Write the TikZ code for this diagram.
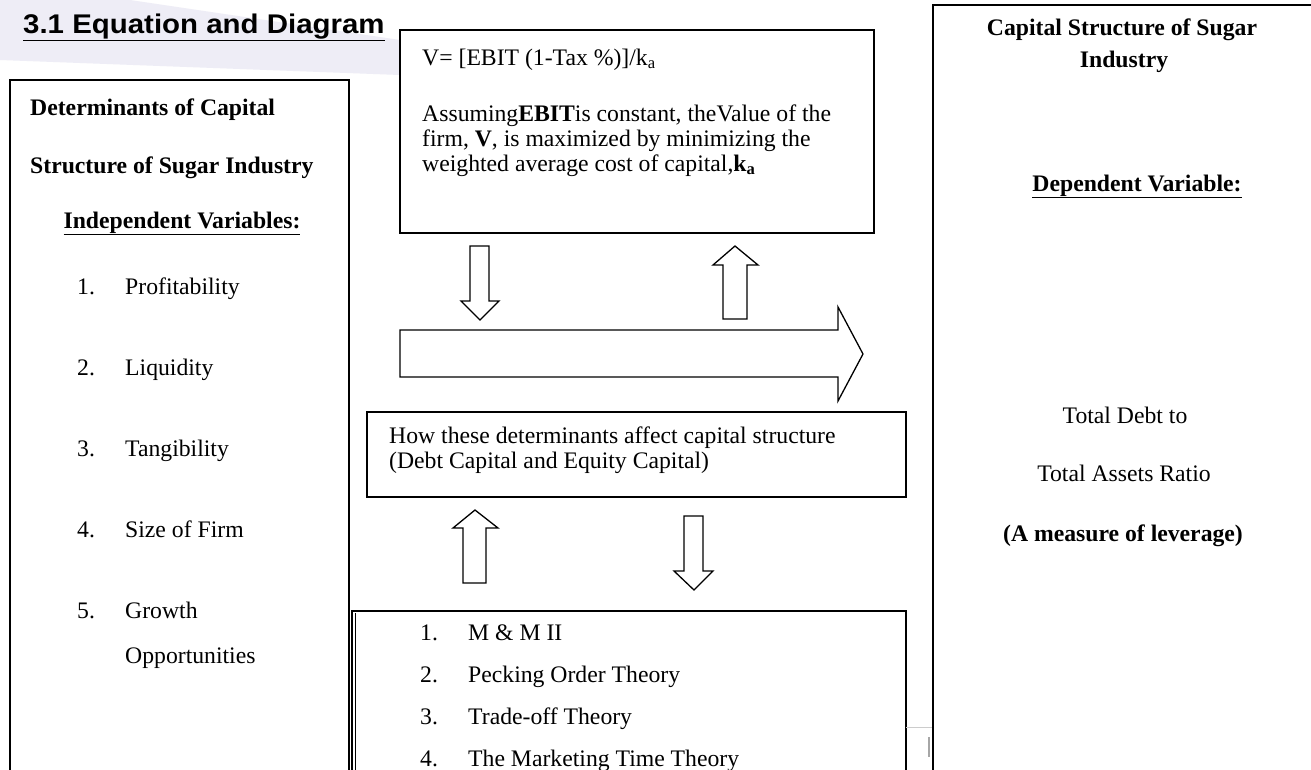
\documentclass[tikz,border=0pt]{standalone}
\usepackage{fontspec}
\setmainfont{Liberation Serif}
\newfontfamily\arialfont{Liberation Sans}
\definecolor{wmark}{RGB}{238,237,246}
\tikzset{
  boxline/.style={draw=black, line width=1.4pt},
  thickbox/.style={draw=black, line width=2pt},
  blockarrow/.style={draw=black, line width=1.3pt, fill=white, line join=miter},
  txt/.style={inner sep=0pt, anchor=base west, font=\fontsize{23.7}{28}\selectfont},
  btxt/.style={inner sep=0pt, anchor=base west, font=\fontsize{23.7}{28}\selectfont\bfseries},
  ctxt/.style={inner sep=0pt, anchor=base, font=\fontsize{23.7}{28}\selectfont},
  cbtxt/.style={inner sep=0pt, anchor=base, font=\fontsize{23.7}{28}\selectfont\bfseries},
}
\begin{document}
\begin{tikzpicture}[x=1pt, y=-1pt]
\useasboundingbox (0,0) rectangle (1311,769);
\fill[white] (0,0) rectangle (1311,769);
% faint watermark
\fill[wmark] (0,0) -- (130,0) -- (400,40) -- (400,75) -- (0,60) -- cycle;

% title
\node[inner sep=0pt, anchor=base west] (title) at (23,33)
  {\scalebox{1.09}[1]{\arialfont\bfseries\fontsize{27}{32}\selectfont\underline{3.1 Equation and Diagram}}};

% left box
\draw[thickbox] (10,780) -- (10,80) -- (349,80) -- (349,780);
\node[btxt] (l1) at (30,115) {Determinants of Capital};
\node[btxt] (l2) at (30,173) {Structure of Sugar Industry};
\node[cbtxt] (l3) at (182,228) {\underline{Independent Variables:}};
\node[txt] (n1) at (77,294) {1.};
\node[txt] (i1) at (125,294) {Profitability};
\node[txt] (n2) at (77,375) {2.};
\node[txt] (i2) at (125,375) {Liquidity};
\node[txt] (n3) at (77,456) {3.};
\node[txt] (i3) at (125,456) {Tangibility};
\node[txt] (n4) at (77,537) {4.};
\node[txt] (i4) at (125,537) {Size of Firm};
\node[txt] (n5) at (77,618) {5.};
\node[txt] (i5) at (125,618) {Growth};
\node[txt] (i6) at (125,663) {Opportunities};

% top middle box
\draw[boxline, fill=white] (400,30) rectangle (874,233);
\node[txt] (eq) at (422,65) {V= [EBIT (1-Tax \%)]/k\textsubscript{a}};
\node[txt] (t1) at (422,121) {Assuming\textbf{EBIT}is constant, theValue of the};
\node[txt] (t2) at (422,146) {firm, \textbf{V}, is maximized by minimizing the};
\node[txt] (t3) at (422,171) {weighted average cost of capital,\textbf{k\textsubscript{a}}};

% arrows between top box and big arrow
\draw[blockarrow] (470,246) -- (489,246) -- (489,301) -- (499,301) -- (480,320) -- (461,301) -- (470,301) -- cycle;
\draw[blockarrow] (735,246) -- (758,265) -- (747,265) -- (747,319) -- (723,319) -- (723,265) -- (713,265) -- cycle;

% big right arrow
\draw[blockarrow] (400,330) -- (838,330) -- (838,307) -- (863,354) -- (838,401) -- (838,377) -- (400,377) -- cycle;

% middle box
\draw[boxline] (367,412) rectangle (906,497);
\node[txt] (m1) at (389,443) {How these determinants affect capital structure};
\node[txt] (m2) at (389,468) {(Debt Capital and Equity Capital)};

% arrows between middle box and bottom box
\draw[blockarrow] (475,510) -- (498,528) -- (486,528) -- (486,583) -- (463,583) -- (463,528) -- (453,528) -- cycle;
\draw[blockarrow] (684,516) -- (703,516) -- (703,571) -- (713,571) -- (694,590) -- (674,571) -- (684,571) -- cycle;

% bottom box
\draw[boxline] (352,780) -- (352,611) -- (906,611) -- (906,780);
\draw[line width=0.8pt] (355.5,613) -- (355.5,780);
\node[txt] (b1n) at (420,640) {1.};
\node[txt] (b1) at (468,640) {M \& M II};
\node[txt] (b2n) at (420,682) {2.};
\node[txt] (b2) at (468,682) {Pecking Order Theory};
\node[txt] (b3n) at (420,724) {3.};
\node[txt] (b3) at (468,724) {Trade-off Theory};
\node[txt] (b4n) at (420,766) {4.};
\node[txt] (b4) at (468,766) {The Marketing Time Theory};

% small grey marks
\draw[gray!40, line width=0.8pt] (906,727) -- (933,727);
\draw[gray!70, line width=1.5pt] (929,737) -- (929,757);

% right box
\draw[thickbox] (933,780) -- (933,5) -- (1320,5);
\node[cbtxt] (r1) at (1122,35) {Capital Structure of Sugar};
\node[cbtxt] (r2) at (1124,67) {Industry};
\node[cbtxt] (r3) at (1137,191) {\underline{Dependent Variable:}};
\node[ctxt] (r4) at (1125,423) {Total Debt to};
\node[ctxt] (r5) at (1124,481) {Total Assets Ratio};
\node[cbtxt] (r6) at (1123,541) {(A measure of leverage)};
\end{tikzpicture}
\end{document}
